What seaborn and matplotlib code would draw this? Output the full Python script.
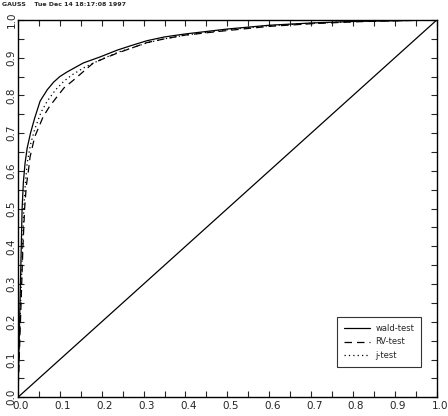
import matplotlib
matplotlib.use("Agg")
import matplotlib.pyplot as plt
import matplotlib.transforms as mtransforms
import seaborn as sns
import numpy as np
from matplotlib.ticker import MultipleLocator

sns.set_style("ticks")
plt.rcParams['font.family'] = ['DejaVu Sans']

header = "GAUSS    Tue Dec 14 18:17:08 1997"
series_names = ["wald-test", "RV-test", "j-test"]

wald_x = [0, 0.002, 0.004, 0.006, 0.008, 0.01, 0.013, 0.017, 0.022, 0.03, 0.04, 0.053, 0.07, 0.085,
          0.1, 0.117, 0.156, 0.196, 0.237, 0.27, 0.308, 0.35, 0.4, 0.5, 0.6, 0.7, 0.8, 0.9, 1.0]
wald_y = [0, 0.1, 0.2, 0.3, 0.4, 0.5, 0.57, 0.62, 0.66, 0.7, 0.74, 0.785, 0.815, 0.835,
          0.85, 0.862, 0.886, 0.902, 0.92, 0.932, 0.945, 0.955, 0.963, 0.976, 0.986, 0.992, 0.996, 0.998, 1.0]

rv_x = [0, 0.003, 0.006, 0.009, 0.012, 0.016, 0.02, 0.025, 0.029, 0.04, 0.06, 0.075, 0.093, 0.11,
        0.132, 0.155, 0.18, 0.21, 0.237, 0.27, 0.308, 0.35, 0.4, 0.5, 0.6, 0.7, 0.8, 0.9, 1.0]
rv_y = [0, 0.1, 0.2, 0.3, 0.4, 0.5, 0.56, 0.6, 0.637, 0.69, 0.743, 0.77, 0.796, 0.82,
        0.84, 0.862, 0.886, 0.9, 0.912, 0.925, 0.94, 0.95, 0.96, 0.972, 0.983, 0.99, 0.995, 0.998, 1.0]

j_x = [0, 0.002, 0.005, 0.008, 0.011, 0.014, 0.018, 0.022, 0.03, 0.04, 0.055, 0.07, 0.09, 0.11,
       0.13, 0.16, 0.2, 0.24, 0.27, 0.31, 0.35, 0.4, 0.5, 0.6, 0.7, 0.8, 0.9, 1.0]
j_y = [0, 0.1, 0.2, 0.3, 0.4, 0.5, 0.57, 0.62, 0.67, 0.71, 0.755, 0.785, 0.815, 0.838,
       0.855, 0.875, 0.896, 0.915, 0.925, 0.94, 0.95, 0.96, 0.974, 0.985, 0.991, 0.996, 0.998, 1.0]

diag_x = [0.0, 1.0]
diag_y = [0.0, 1.0]

fig = plt.figure(figsize=(4.48, 4.16), dpi=100)
ax = fig.add_axes([0.040, 0.045, 0.935, 0.907])

sns.lineplot(x=wald_x, y=wald_y, ax=ax, color="black", linewidth=0.9, linestyle="-",
             sort=False, label=series_names[0])
sns.lineplot(x=rv_x, y=rv_y, ax=ax, color="black", linewidth=0.9, linestyle=(0, (6, 4)),
             sort=False, label=series_names[1])
sns.lineplot(x=j_x, y=j_y, ax=ax, color="black", linewidth=0.9, linestyle=(0, (1, 2.5)),
             sort=False, label=series_names[2])
sns.lineplot(x=diag_x, y=diag_y, ax=ax, color="black", linewidth=0.9, sort=False)

ax.set_xlim(0, 1)
ax.set_ylim(0, 1)
ax.xaxis.set_major_locator(MultipleLocator(0.1))
ax.xaxis.set_minor_locator(MultipleLocator(0.05))
ax.yaxis.set_major_locator(MultipleLocator(0.1))
ax.yaxis.set_minor_locator(MultipleLocator(0.05))
ax.tick_params(which="both", direction="in", top=True, right=True, length=4, width=0.8,
               labelsize=7.5, pad=3)
ax.set_xticklabels([f"{v:.1f}" for v in ax.get_xticks()])
shift = mtransforms.ScaledTranslation(3 / 100, 0, fig.dpi_scale_trans)
for lab in ax.get_xticklabels():
    lab.set_transform(lab.get_transform() + shift)
for lab in ax.get_yticklabels():
    lab.set_rotation(90)
    lab.set_va("center")
ax.yaxis.set_tick_params(pad=1)
for s in ax.spines.values():
    s.set_linewidth(1.0)
    s.set_color("black")

leg = ax.legend(loc="lower right", bbox_to_anchor=(0.972, 0.07), fontsize=6, frameon=True,
                fancybox=False, edgecolor="black", handlelength=3.2, borderpad=0.8,
                labelspacing=0.55, handletextpad=0.6)
leg.get_frame().set_linewidth(0.8)

fig.text(0.005, 0.995, header, fontsize=4.5, fontweight="bold", va="top", ha="left")

fig.savefig("out.png", dpi=100)
